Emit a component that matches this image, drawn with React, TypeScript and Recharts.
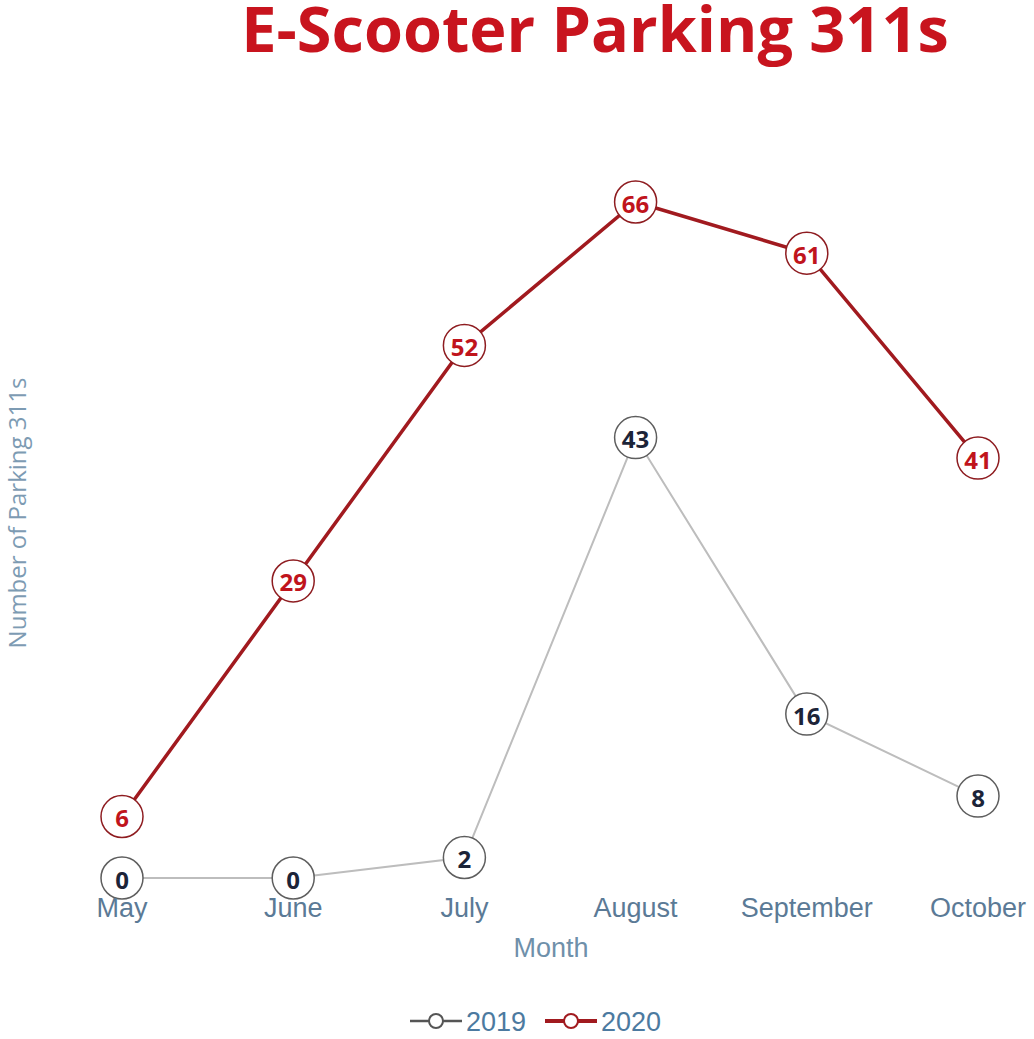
import { LineChart, Line, XAxis, YAxis, LabelList } from 'recharts'

const months = ['May', 'June', 'July', 'August', 'September', 'October']
const y2019 = [0, 0, 2, 43, 16, 8]
const y2020 = [6, 29, 52, 66, 61, 41]

const data = months.map((m, i) => ({ month: m, y2019: y2019[i], y2020: y2020[i] }))

const C2019_LINE = '#bdbdbd'
const C2019_DOT = '#5e5e5e'
const C2020 = '#a11a1f'
const C2020_DOT = '#8e1c20'
const SANS = "'Liberation Sans', Arial, sans-serif"
const OPEN = "'Open Sans', sans-serif"

function ValueLabel(color: string) {
  return (props: any) => {
    const { x, y, value } = props
    return (
      <text
        x={x}
        y={y + 1}
        textAnchor="middle"
        dominantBaseline="central"
        fill={color}
        fontFamily={OPEN}
        fontWeight={700}
        fontSize={24}
      >
        {value}
      </text>
    )
  }
}

function MonthTick(props: any) {
  const { x, payload } = props
  return (
    <text x={x} y={917} textAnchor="middle" fill="#5b7a96" fontFamily={SANS} fontSize={27}>
      {payload.value}
    </text>
  )
}

function Overlay() {
  const legend = [
    { name: '2019', color: '#555555', width: 2.5, x: 410 },
    { name: '2020', color: C2020, width: 4, x: 545 },
  ]
  return (
    <svg
      width={1034}
      height={1039}
      style={{ position: 'absolute', left: 0, top: 0, pointerEvents: 'none' }}
    >
      <text x={595} y={52} textAnchor="middle" fill="#c8141e" fontFamily={OPEN} fontWeight={700} fontSize={63}>
        E-Scooter Parking 311s
      </text>
      <text
        x={0}
        y={0}
        transform="translate(26 513) rotate(-90)"
        textAnchor="middle"
        fill="#7d9bb3"
        fontFamily={OPEN}
        fontSize={24}
      >
        Number of Parking 311s
      </text>
      <text x={551} y={957} textAnchor="middle" fill="#6f90aa" fontFamily={SANS} fontSize={27}>
        Month
      </text>
      {legend.map((it) => (
        <g key={it.name}>
          <line x1={it.x} y1={1021} x2={it.x + 52} y2={1021} stroke={it.color} strokeWidth={it.width} />
          <circle cx={it.x + 26} cy={1021} r={7} fill="#fff" stroke={it.color} strokeWidth={2} />
          <text x={it.x + 56} y={1031} fill="#4c7aa0" fontFamily={SANS} fontSize={27}>
            {it.name}
          </text>
        </g>
      ))}
    </svg>
  )
}

export default function App() {
  return (
    <div style={{ position: 'absolute', left: 0, top: 0, width: 1034, height: 1039, background: '#fff' }}>
      <LineChart
        width={1034}
        height={1039}
        data={data}
        margin={{ top: 202, right: 34, bottom: 0, left: 100 }}
      >
        <XAxis
          dataKey="month"
          axisLine={false}
          tickLine={false}
          tick={<MonthTick />}
          height={161}
          padding={{ left: 22, right: 22 }}
          interval={0}
        />
        <YAxis hide domain={[0, 66]} />
        <Line
          dataKey="y2019"
          name="2019"
          stroke={C2019_LINE}
          strokeWidth={2}
          dot={{ r: 21, fill: '#fff', stroke: C2019_DOT, strokeWidth: 1.5 }}
          isAnimationActive={false}
        >
          <LabelList dataKey="y2019" content={ValueLabel('#1c2438')} />
        </Line>
        <Line
          dataKey="y2020"
          name="2020"
          stroke={C2020}
          strokeWidth={3.5}
          dot={{ r: 21, fill: '#fff', stroke: C2020_DOT, strokeWidth: 1.5 }}
          isAnimationActive={false}
        >
          <LabelList dataKey="y2020" content={ValueLabel('#c0141c')} />
        </Line>
      </LineChart>
      <Overlay />
    </div>
  )
}
